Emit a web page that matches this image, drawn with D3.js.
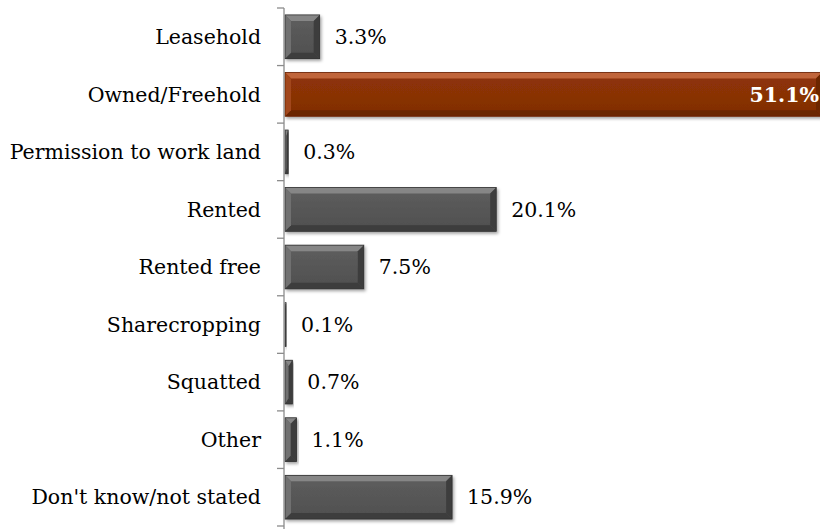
<!DOCTYPE html>
<html><head><meta charset="utf-8">
<script src="https://cdn.jsdelivr.net/npm/d3@7/dist/d3.min.js"></script>
<style>body{margin:0;background:#fff}svg{display:block}</style>
</head><body>
<script>
const categories = ["Leasehold","Owned/Freehold","Permission to work land","Rented","Rented free","Sharecropping","Squatted","Other","Don't know/not stated"];
const values = [3.3,51.1,0.3,20.1,7.5,0.1,0.7,1.1,15.9];
const highlight = ["Owned/Freehold"];

const W=820,H=529;
const svg=d3.select("body").append("svg").attr("width",W).attr("height",H);
const x0=285;
const x=d3.scaleLinear().domain([0,51.1]).range([x0,822]);
const y=d3.scaleBand().domain(categories).range([8,526]).paddingInner(0.24).paddingOuter(0.12);
const font='"DejaVu Serif", serif';
const fs=20.5;

const defs=svg.append("defs");
const f=defs.append("filter").attr("id","sh").attr("x","-10%").attr("y","-20%").attr("width","130%").attr("height","160%");
f.append("feDropShadow").attr("dx",1.5).attr("dy",2).attr("stdDeviation",1.5).attr("flood-color","#000").attr("flood-opacity",0.35);
function grad(id,top,mid,bot){
  const g=defs.append("linearGradient").attr("id",id).attr("x1",0).attr("y1",0).attr("x2",0).attr("y2",1);
  g.append("stop").attr("offset","0%").attr("stop-color",top);
  g.append("stop").attr("offset","50%").attr("stop-color",mid);
  g.append("stop").attr("offset","100%").attr("stop-color",bot);
}
grad("gg","#5e5e5e","#575757","#4e4e4e");
grad("go","#8e3408","#8a3206","#7f2d05");

const data=categories.map((c,i)=>({c,v:values[i],hi:highlight.includes(c)}));
const g=svg.selectAll("g.bar").data(data).join("g").attr("class","bar").attr("filter","url(#sh)");
g.each(function(d){
  const s=d3.select(this);
  const xa=x(0), xb=x(d.v), ya=y(d.c), yb=ya+y.bandwidth();
  const w=xb-xa;
  const b=Math.min(6, w/2);
  const col=d.hi?{base:"url(#go)",t:"#c0653a",l:"#a2471c",r:"#6c2604",bo:"#6a2504",st:"#6a2504"}
               :{base:"url(#gg)",t:"#868686",l:"#707070",r:"#3e3e3e",bo:"#3c3c3c",st:"#333"};
  s.append("rect").attr("x",xa).attr("y",ya).attr("width",w).attr("height",yb-ya).attr("fill",col.base);
  s.append("polygon").attr("points",[[xa,ya],[xb,ya],[xb-b,ya+6],[xa+b,ya+6]].join(" ")).attr("fill",col.t);
  s.append("polygon").attr("points",[[xa,yb],[xb,yb],[xb-b,yb-6],[xa+b,yb-6]].join(" ")).attr("fill",col.bo);
  s.append("polygon").attr("points",[[xa,ya],[xa+b,ya+6],[xa+b,yb-6],[xa,yb]].join(" ")).attr("fill",col.l);
  s.append("polygon").attr("points",[[xb,ya],[xb-b,ya+6],[xb-b,yb-6],[xb,yb]].join(" ")).attr("fill",col.r);
  s.append("rect").attr("x",xa).attr("y",ya).attr("width",w).attr("height",yb-ya).attr("fill","none").attr("stroke",col.st).attr("stroke-width",0.8);
});

// axis
const ax=svg.append("g").attr("transform",`translate(${x0-1},0)`);
ax.append("line").attr("x1",0).attr("x2",0).attr("y1",8).attr("y2",529).attr("stroke","#8c8c8c").attr("stroke-width",1.3);
const step=(526-8)/categories.length;
const ticks=d3.range(categories.length+1).map(i=>8+i*step);
ax.selectAll("line.t").data(ticks).join("line").attr("class","t").attr("x1",-7).attr("x2",0).attr("y1",d=>d).attr("y2",d=>d).attr("stroke","#8c8c8c").attr("stroke-width",1.3);
ax.selectAll("text").data(categories).join("text").attr("x",-23).attr("y",d=>y(d)+y.bandwidth()/2).attr("dy","0.35em")
  .attr("text-anchor","end").attr("font-family",font).attr("font-size",fs).attr("fill","#000").text(d=>d);

svg.selectAll("text.v").data(data).join("text").attr("class","v")
  .attr("x",d=>d.hi?819:x(d.v)+15).attr("y",d=>y(d.c)+y.bandwidth()/2).attr("dy","0.35em")
  .attr("text-anchor",d=>d.hi?"end":"start").attr("font-family",font).attr("font-size",fs)
  .attr("font-weight",d=>d.hi?"bold":"normal").attr("fill",d=>d.hi?"#fff":"#000")
  .text(d=>d.v.toFixed(1)+"%");
</script>
</body></html>
